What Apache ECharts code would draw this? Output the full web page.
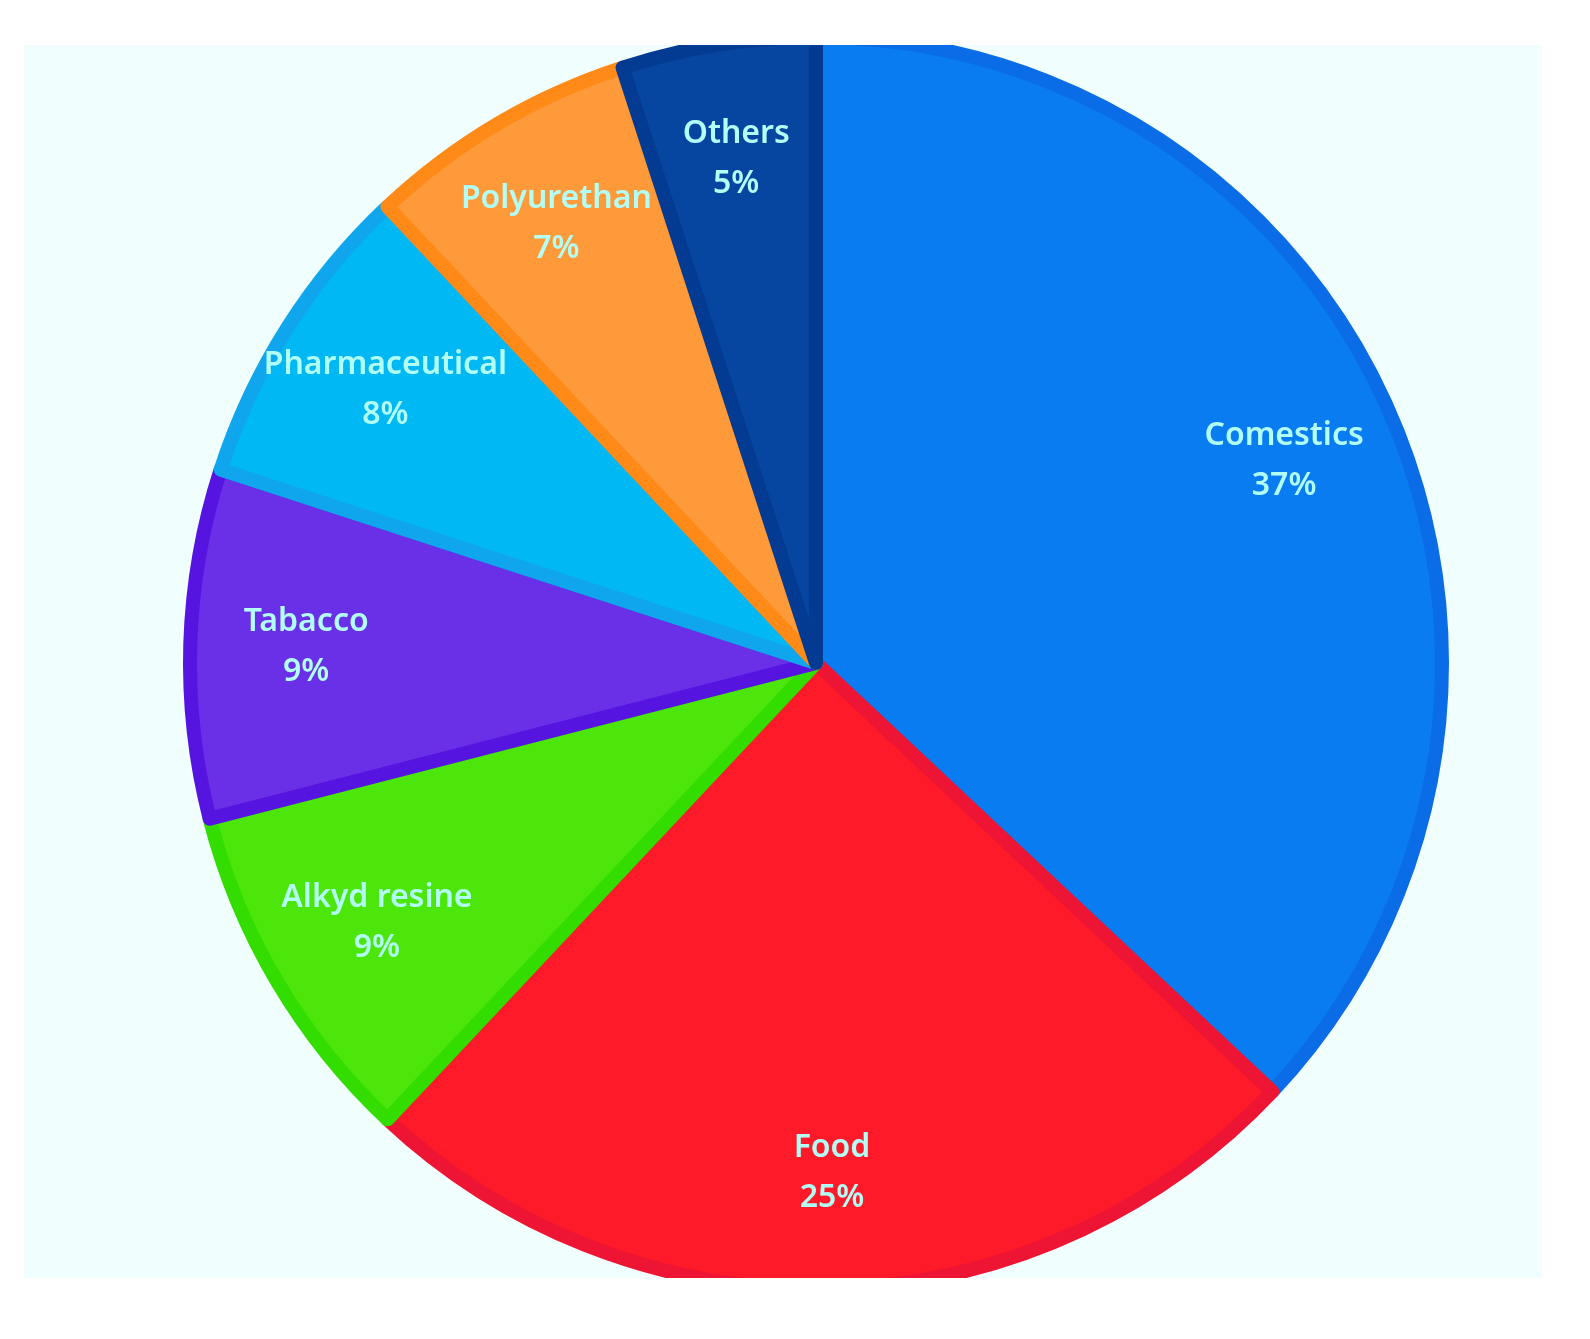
<!DOCTYPE html>
<html><head><meta charset="utf-8">
<script src="https://cdn.jsdelivr.net/npm/echarts@6/dist/echarts.min.js"></script>
<style>html,body{margin:0;background:#fff;}#wrap{position:absolute;left:24px;top:45px;width:1518px;height:1233px;overflow:hidden;background:#F0FEFE;}#c{width:1518px;height:1233px;}</style>
</head><body><div id="wrap"><div id="c"></div></div>
<script>
const categories=['Comestics','Food','Alkyd resine','Tabacco','Pharmaceutical','Polyurethan','Others'];
const values=[37,25,9,9,8,7,5];
const fills=['#0A7CF2','#FF1A2A','#4CE60A','#6A30E8','#00B8F4','#FF9A3A','#0645A0'];
const borders=['#0A6CE6','#EE1433','#33DD00','#5514E0','#10A6EE','#FF8A18','#043B92'];
const R=626;
const ch=echarts.init(document.getElementById('c'));
const data=categories.map((n,i)=>({name:n,value:values[i],itemStyle:{color:fills[i],borderColor:borders[i]}}));
ch.setOption({animation:false,series:[
{type:'pie',center:[792,618],radius:[0,R],startAngle:90,clockwise:true,label:{show:false},labelLine:{show:false},
 itemStyle:{borderWidth:14},data:data,silent:true},
{type:'pie',center:[792,618],radius:[R*0.62,R],startAngle:90,clockwise:true,silent:true,
 itemStyle:{color:'transparent'},labelLine:{show:false},
 label:{show:true,position:'inside',formatter:'{b}\n{d}%',color:'#B2FFF6',fontFamily:'Noto Sans',fontWeight:600,fontSize:32,lineHeight:50},
 data:categories.map((n,i)=>({name:n,value:values[i]}))}
]});
</script></body></html>
